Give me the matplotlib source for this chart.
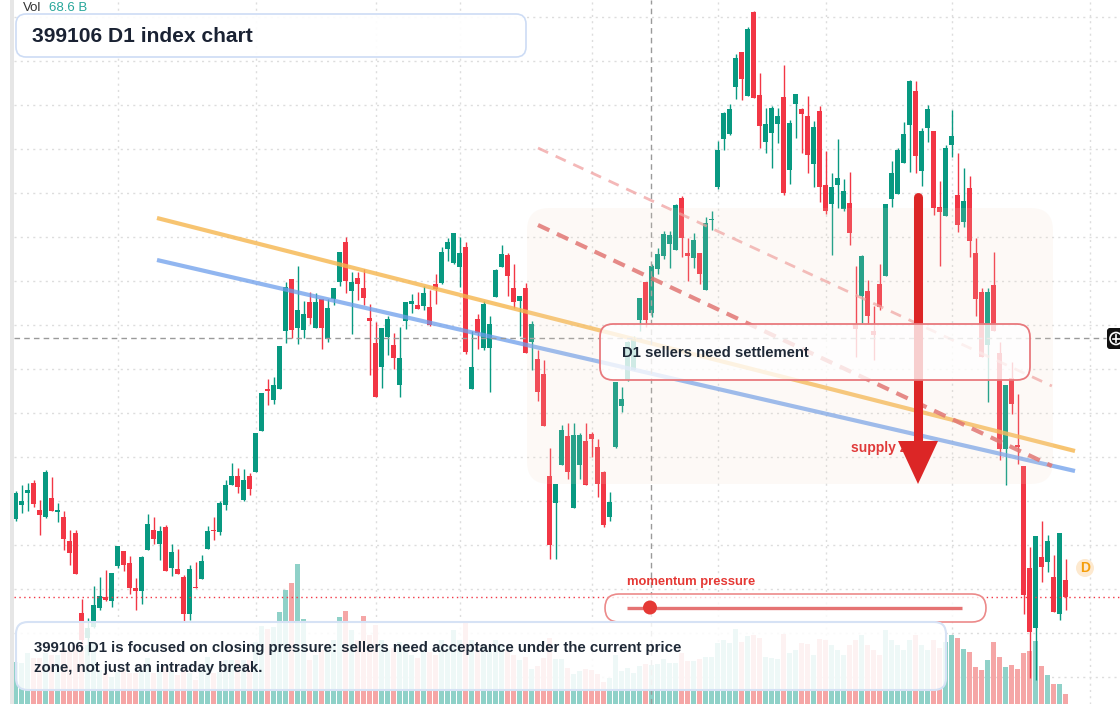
import matplotlib
matplotlib.use("Agg")
import matplotlib.pyplot as plt
from matplotlib.patches import FancyBboxPatch, Rectangle, Polygon, Circle
import numpy as np

plt.rcParams['font.family'] = ['Liberation Sans', 'DejaVu Sans']

# ---------------- data (daily candles, price units) ----------------
opens = [181,195,207,217,190,183,202,188,183,159,167,87,62,73,92,103,99,134,149,137,
         112,109,150,170,156,173,132,131,123,86,113,121,151,170,168,195,215,224,200,224,
         228,269,311,300,311,369,421,372,370,398,372,401,361,401,418,458,409,422,412,382,
         357,333,363,355,315,379,396,395,394,393,416,417,451,437,433,453,311,381,352,352,
         403,433,445,412,399,412,358,341,326,224,197,235,264,192,235,259,266,253,228,183,
         253,294,320,330,380,418,387,431,444,456,450,502,447,442,447,410,480,513,561,566,
         613,648,604,688,605,558,567,576,603,530,596,591,584,536,589,515,496,515,491,497,
         376,404,409,369,416,424,501,506,537,575,609,529,572,569,493,484,555,505,478,512,
         447,408,355,415,347,251,322,255,234,132,72,143,138,123,86,120]
highs = [209,215,217,220,200,230,223,197,189,170,170,101,82,114,123,130,127,154,149,144,
         122,144,186,183,174,175,156,151,125,135,138,145,174,183,199,220,237,232,231,227,
         267,307,321,323,354,418,421,434,399,408,407,401,401,412,448,463,428,428,431,396,
         378,372,384,367,373,398,406,408,414,410,426,453,462,467,463,458,369,386,399,384,
         431,455,447,436,404,417,379,350,340,252,216,275,277,277,267,277,268,261,229,208,
         318,313,359,364,402,418,436,452,469,469,496,504,462,467,447,483,489,559,588,596,
         646,648,673,689,627,592,594,592,635,580,606,592,604,579,594,549,527,561,521,528,
         434,445,420,394,436,496,539,552,578,620,619,572,595,569,519,555,590,547,532,524,
         462,412,412,448,358,315,338,306,234,153,164,179,165,145,167,141]
lows = [179,187,189,193,165,182,189,178,150,135,126,55,45,72,90,99,93,132,129,106,
        90,96,150,156,140,129,124,126,78,80,112,121,151,160,165,190,215,207,199,205,
        228,269,295,296,311,357,362,356,362,376,372,351,358,395,414,407,366,400,395,325,
        303,312,345,331,303,371,387,391,390,374,396,416,439,436,413,346,311,351,350,308,
        403,433,404,392,364,347,330,299,274,141,141,235,221,192,221,215,243,203,173,179,
        252,288,319,330,369,373,383,426,441,432,450,443,419,432,416,410,470,511,550,565,
        601,600,604,602,552,547,532,557,505,516,562,547,527,513,498,486,445,492,489,455,
        343,377,376,340,390,424,493,506,537,528,527,514,558,485,434,484,543,468,473,443,
        384,343,298,369,240,215,286,236,86,22,20,118,128,88,80,90]
closes = [207,199,210,196,185,228,189,190,161,147,126,60,72,95,104,100,127,154,135,112,
          109,143,176,161,169,129,148,126,86,131,112,139,169,169,197,215,224,213,220,211,
          267,307,309,315,354,413,370,390,386,382,398,372,392,412,448,419,418,416,402,379,
          303,372,381,342,342,398,399,391,407,375,411,448,458,467,447,348,333,367,396,376,
          430,446,424,398,404,347,376,308,274,155,216,270,228,265,265,215,261,216,175,198,
          318,301,358,361,402,380,434,446,466,465,495,462,444,460,426,477,481,550,587,591,
          642,621,671,602,574,576,592,584,507,577,606,586,545,573,513,489,513,522,509,467,
          371,444,384,365,393,496,527,550,566,619,544,569,591,492,488,552,564,475,499,459,
          401,343,408,369,251,315,296,253,105,68,164,133,159,88,167,103]
volumes = [42,41,51,46,46,51,49,49,56,54,59,54,59,62,34,31,27,32,34,31,
           31,34,46,31,34,37,32,29,36,31,24,34,47,31,32,44,44,44,44,44,
           62,78,75,77,92,114,121,140,85,44,49,54,56,64,87,93,74,64,88,69,
           79,64,54,56,62,59,49,46,54,52,49,64,59,74,64,82,64,54,59,56,
           64,59,54,49,44,47,35,38,46,66,45,45,36,30,33,35,34,30,22,26,
           49,33,36,31,38,40,39,40,45,41,41,51,43,43,45,47,47,61,64,61,
           75,62,68,69,66,47,46,45,70,51,54,61,60,49,65,64,59,54,49,59,
           64,69,59,54,49,74,64,59,54,64,69,59,54,64,56,62,69,66,55,52,
           37,34,44,62,47,37,39,35,51,53,63,38,29,20,20,10]

# trend / guide lines: (start index, end index), (start price, end price)
orange_trend = ([23.55, 176.55], [482, 249])
blue_trend = ([23.55, 176.55], [440, 229])
red_channel = ([87.05, 172.7], [475, 234])
red_channel_light = ([87.05, 172.7], [552, 314])
grid_prices = [683 - 44 * k for k in range(16)]
grid_days = [17, 40, 60, 74, 96, 117, 135, 156, 179]
cross_day, cross_price = 105.9, 362

title = "399106 D1 index chart"
note_lines = ["399106 D1 is focused on closing pressure: sellers need acceptance under the current price",
              "zone, not just an intraday break."]

UP, DOWN = '#089981', '#f23645'
VOL_UP, VOL_DOWN = '#8fd1c8', '#f5a6a6'

fig = plt.figure(figsize=(11.2, 7.04), dpi=100)
ax = fig.add_axes([0, 0, 1, 1], zorder=1)
ax.set_xlim(-2.617, 184.05)
ax.set_ylim(-4, 700)
ax.axis('off')

n = len(opens)
x = np.arange(n)
up = np.array(closes) >= np.array(opens)
ccol = np.where(up, UP, DOWN)
vcol = np.where(up, VOL_UP, VOL_DOWN)

x_left = (14 - 15.7) / 6.0
# grid
ax.hlines(grid_prices, x_left, 184.05, colors='#dddddd', lw=1, linestyles=(0, (1.5, 3)), zorder=0.5)
ax.vlines(grid_days, -4, 700, colors='#dddddd', lw=1, linestyles=(0, (1.5, 3)), zorder=0.5)

# volume
ax.bar(x, volumes, bottom=-4, width=0.82, color=vcol, linewidth=0, zorder=1)

# candles
ax.vlines(x, lows, highs, colors=ccol, lw=1.0, zorder=2)
body_lo = np.minimum(opens, closes)
body_h = np.maximum(np.abs(np.array(closes) - np.array(opens)), 1.2)
ax.bar(x, body_h, bottom=body_lo, width=0.82, color=ccol, linewidth=0, zorder=2.1)

# trend lines
ax.plot(*orange_trend, color='#f6b64e', lw=3, alpha=0.8, solid_capstyle='butt', zorder=3)
ax.plot(*blue_trend, color='#6d9eeb', lw=3, alpha=0.75, solid_capstyle='butt', zorder=3)
ax.plot(*red_channel, color='#e06666', lw=3, alpha=0.85, dashes=(3, 2), zorder=3)
ax.plot(*red_channel_light, color='#f09a9a', lw=2, alpha=0.7, dashes=(4, 3), zorder=3)

# last price line
ax.hlines(closes[-1], x_left, 184.05, colors=DOWN, lw=1, linestyles=(0, (1, 2.5)), zorder=3.5)
# crosshair
ax.vlines(cross_day, -4, 700, colors='#9a9a9a', lw=1, linestyles=(0, (4, 3)), zorder=4)
ax.hlines(cross_price, x_left, (1106 - 15.7) / 6.0, colors='#9a9a9a', lw=1, linestyles=(0, (4, 3)), zorder=4)

# ---------------- overlay in pixel coordinates ----------------
ov = fig.add_axes([0, 0, 1, 1], zorder=2)
ov.set_xlim(0, 1120)
ov.set_ylim(704, 0)
ov.axis('off')
ov.patch.set_alpha(0)

ov.add_patch(Rectangle((10, 0), 4, 704, fc='#e6e6e6', ec='none', zorder=1))

# supply zone
ov.add_patch(FancyBboxPatch((527, 208), 526, 276, boxstyle='round,pad=0,rounding_size=22',
                            fc='#f1dbc6', ec='none', alpha=0.14, zorder=1))
ov.text(851, 448, 'supply zone', color='#e03a3a', fontsize=10, fontweight='bold', va='center', zorder=2)
# arrow
ov.plot([918, 918], [197, 445], color='#dc2626', lw=6.5, solid_capstyle='round', zorder=3)
ov.add_patch(Polygon([(898, 441), (938, 441), (918, 484)], closed=True, fc='#dc2626', ec='none', zorder=3))

# D1 box
ov.add_patch(FancyBboxPatch((600, 324), 430, 56, boxstyle='round,pad=0,rounding_size=13',
                            fc=(1, 1, 1, 0.78), ec='#e8797d', lw=1.3, zorder=4))
ov.text(622, 353, 'D1 sellers need settlement', color='#1f2937', fontsize=10.7, fontweight='bold',
        va='center', zorder=5)

# momentum slider
ov.text(627, 582, 'momentum pressure', color='#e53935', fontsize=9.4, fontweight='bold', va='center', zorder=5)
ov.add_patch(FancyBboxPatch((605, 594), 381, 28, boxstyle='round,pad=0,rounding_size=14',
                            fc=(1, 1, 1, 0.8), ec='#ec8a8a', lw=1.2, zorder=4))
ov.plot([627, 962], [607.5, 607.5], color='#e57373', lw=2.4, solid_capstyle='butt', zorder=5)
ov.add_patch(Circle((650, 607.5), 7, fc='#e53935', ec='none', zorder=6))

# bottom note
ov.add_patch(FancyBboxPatch((16, 622), 930, 68, boxstyle='round,pad=0,rounding_size=12',
                            fc=(1, 1, 1, 0.86), ec='#d6e2f5', lw=1.5, zorder=4))
ov.text(34, 648, note_lines[0], color='#1f2937', fontsize=10.8, fontweight='bold', va='center', zorder=5)
ov.text(34, 668, note_lines[1], color='#1f2937', fontsize=10.8, fontweight='bold', va='center', zorder=5)

# title
ov.add_patch(FancyBboxPatch((16, 14), 510, 43, boxstyle='round,pad=0,rounding_size=10',
                            fc=(1, 1, 1, 0.92), ec='#cddcf5', lw=1.2, zorder=4))
ov.text(32, 36, title, color='#1a2233', fontsize=15.1, fontweight='bold', va='center', zorder=5)
ov.text(23, 8, 'Vol', color='#333333', fontsize=9.5, va='center', zorder=5)
ov.text(49, 8, '68.6 B', color='#26a69a', fontsize=9.5, va='center', zorder=5)

# D marker
ov.add_patch(Circle((1085, 568), 9, fc='#fde9cf', ec='none', zorder=5))
ov.text(1085, 568, 'D', color='#f59e0b', fontsize=10, fontweight='bold', ha='center', va='center', zorder=6)

# crosshair label
ov.add_patch(FancyBboxPatch((1107, 328), 20, 21, boxstyle='round,pad=0,rounding_size=3',
                            fc='#111111', ec='none', zorder=6))
ov.add_patch(Circle((1116, 338.5), 6, fc='none', ec='white', lw=1.2, zorder=7))
ov.plot([1112.5, 1119.5], [338.5, 338.5], color='white', lw=1.2, zorder=7)
ov.plot([1116, 1116], [335, 342], color='white', lw=1.2, zorder=7)

fig.savefig('out.png', dpi=100)
